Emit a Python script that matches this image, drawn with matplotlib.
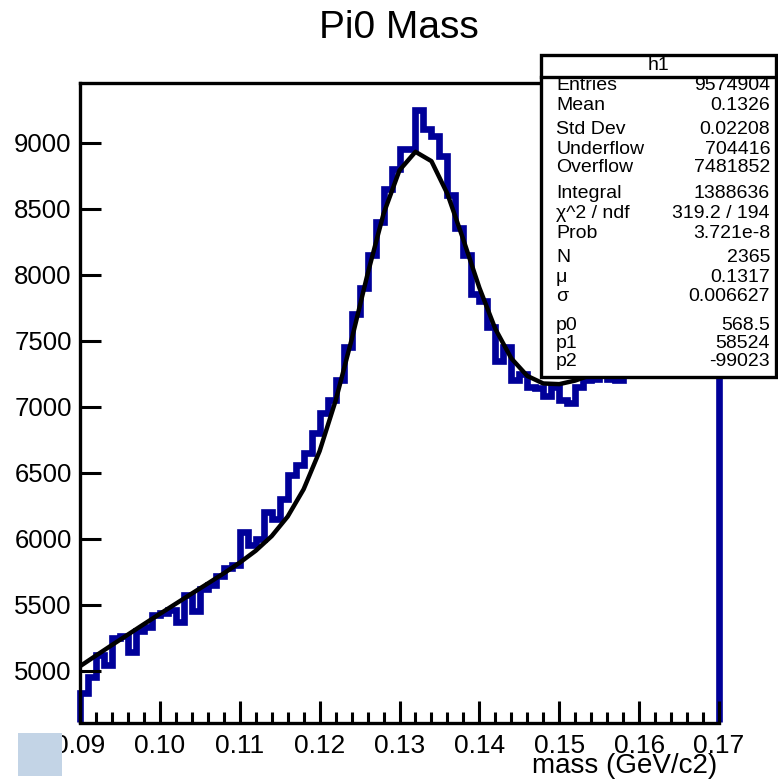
import numpy as np
import matplotlib.pyplot as plt
from matplotlib.patches import Rectangle
from matplotlib.lines import Line2D

plt.rcParams['font.family'] = ['Liberation Sans', 'DejaVu Sans']

# histogram h1: 80 bins of 0.001 GeV between 0.09 and 0.17
x_lo, x_hi, n_bins = 0.09, 0.17, 80
counts = [4830, 4950, 5120, 5040, 5250, 5260, 5140, 5300, 5330, 5420,
          5440, 5460, 5370, 5570, 5450, 5620, 5650, 5720, 5780, 5800,
          6050, 5950, 6000, 6200, 6150, 6300, 6480, 6560, 6650, 6800,
          6950, 7050, 7200, 7450, 7700, 7900, 8150, 8400, 8650, 8800,
          8950, 8950, 9250, 9100, 9050, 8900, 8600, 8350, 8150, 7850,
          7800, 7600, 7350, 7450, 7200, 7250, 7150, 7140, 7080, 7150,
          7050, 7030, 7150, 7200, 7210, 7250, 7210, 7200, 7300, 7330,
          7290, 7350, 7380, 7340, 7400, 7390, 7420, 7400, 7450, 7430]

# fit curve (gaus + pol2), read every 0.002 GeV
fit_x = [0.090, 0.092, 0.094, 0.096, 0.098, 0.100, 0.102, 0.104, 0.106, 0.108,
         0.110, 0.112, 0.114, 0.116, 0.118, 0.120, 0.122, 0.124, 0.126, 0.128,
         0.130, 0.132, 0.134, 0.136, 0.138, 0.140, 0.142, 0.144, 0.146, 0.148,
         0.150, 0.152, 0.154, 0.156, 0.158, 0.160, 0.162, 0.164, 0.166, 0.168, 0.170]
fit_y = [5034, 5115, 5195, 5274, 5353, 5431, 5508, 5585, 5661, 5738,
         5819, 5909, 6020, 6168, 6375, 6664, 7045, 7507, 8004, 8461,
         8791, 8931, 8860, 8612, 8264, 7901, 7589, 7366, 7233, 7176,
         7171, 7198, 7241, 7291, 7343, 7397, 7451, 7503, 7555, 7606, 7656]

# stats box
stat_names = ['Entries', 'Mean', 'Std Dev', 'Underflow', 'Overflow', 'Integral',
              'χ^2 / ndf', 'Prob', 'N', 'μ', 'σ', 'p0', 'p1', 'p2']
stat_values = ['9574904', '0.1326', '0.02208', '704416', '7481852', '1388636',
               '319.2 / 194', '3.721e-8', '2365', '0.1317', '0.006627',
               '568.5', '58524', '-99023']
stat_rows_px = [85, 105, 130, 149, 168, 194, 213, 233, 258, 278, 297, 325, 343, 362]

W, H = 778, 779
fig = plt.figure(figsize=(W / 100, H / 100), dpi=100)
ax = fig.add_axes([80 / W, 1 - 722.5 / H, 639 / W, (722.5 - 83) / H])

y_min, y_max = 4608, 9452
edges = np.linspace(x_lo, x_hi, n_bins + 1)
ax.stairs(counts, edges, baseline=y_min, color='#000099', lw=4.8, clip_on=False, zorder=1)
ax.plot(fit_x, fit_y, color='black', lw=3.2, zorder=2)

ax.set_xlim(x_lo, x_hi)
ax.set_ylim(y_min, y_max)
ax.set_xticks(np.linspace(0.09, 0.17, 9))
ax.set_xticklabels(['0.09', '0.10', '0.11', '0.12', '0.13', '0.14', '0.15', '0.16', '0.17'])
ax.set_xticks(np.linspace(0.09, 0.17, 41), minor=True)
ax.set_yticks(np.arange(5000, 9001, 500))
ax.tick_params(axis='x', which='major', direction='in', length=16, width=2.2,
               labelsize=19, pad=8, top=False)
ax.tick_params(axis='x', which='minor', direction='in', length=8, width=2.2, top=False)
ax.tick_params(axis='y', which='major', direction='in', length=15, width=2.2,
               labelsize=18.5, pad=6, right=False)
for s in ['left', 'bottom', 'top']:
    ax.spines[s].set_linewidth(2.4)
ax.spines['right'].set_visible(False)

fig.text(399 / W, 1 - 28 / H, 'Pi0 Mass', ha='center', va='center', fontsize=28)
fig.text(717 / W, 1 - 766 / H, 'mass (GeV/c2)', ha='right', va='center', fontsize=20)

# little square in the lower left corner
fig.add_artist(Rectangle((18 / W, 1 - 776 / H), 44 / W, 43 / H, transform=fig.transFigure,
                         facecolor='#c3d4e6', edgecolor='none'))

# stats box
bx0, bx1, by0, by1 = 541, 776, 55, 377
fig.add_artist(Rectangle((bx0 / W, 1 - by1 / H), (bx1 - bx0) / W, (by1 - by0) / H,
                         transform=fig.transFigure, facecolor='white',
                         edgecolor='black', lw=2.4, zorder=5))
fig.add_artist(Line2D([bx0 / W, bx1 / W], [1 - 77 / H, 1 - 77 / H],
                      transform=fig.transFigure, color='black', lw=2.4, zorder=6))
fig.text((bx0 + bx1) / 2 / W, 1 - 66 / H, 'h1', ha='center', va='center', fontsize=14, zorder=7)
for name, val, ypx in zip(stat_names, stat_values, stat_rows_px):
    fig.text(556 / W, 1 - ypx / H, name, ha='left', va='center', fontsize=14, zorder=7)
    fig.text(770 / W, 1 - ypx / H, val, ha='right', va='center', fontsize=14, zorder=7)

fig.savefig('out.png', dpi=100)
